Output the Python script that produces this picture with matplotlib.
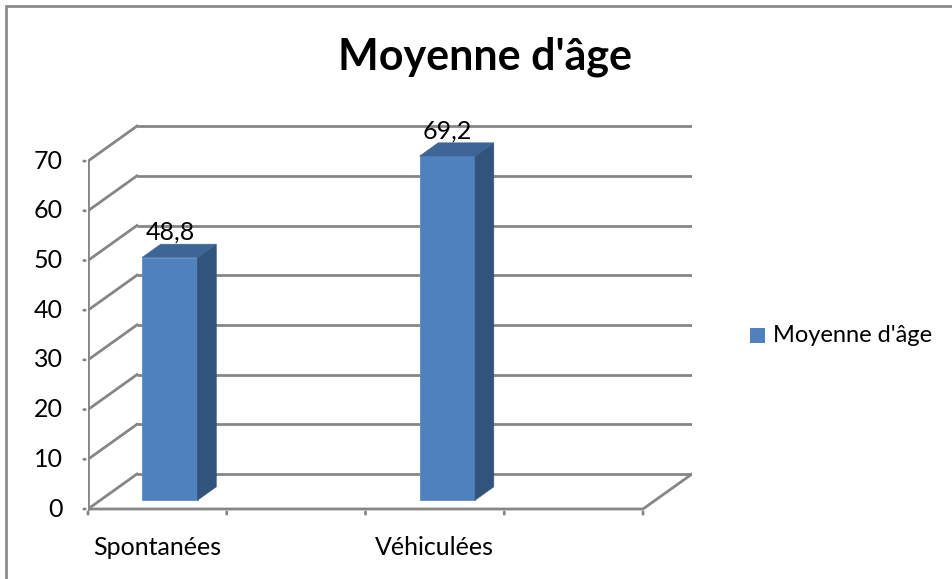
"""
Moyenne d'age - Excel style 3D column chart, faked with 2D patches.
"""

import matplotlib.pyplot as plt
from matplotlib.patches import Polygon, Rectangle

categories = ["Spontanées", "Véhiculées"]
values = [48.8, 69.2]
labels = ["48,8", "69,2"]
series_name = "Moyenne d'âge"
yticks = [0, 10, 20, 30, 40, 50, 60, 70]

plt.rcParams['font.family'] = ['Lato', 'DejaVu Sans']

front = '#4F81BD'
side = '#31537C'
top = '#3D6696'
grid = '#868686'

W, H = 953, 579
fig = plt.figure(figsize=(W / 100, H / 100), dpi=100)

# axes placed in pixels: x 88..692, value 0 at y=509, 4.97 px per unit
px_slot = 138.8
px_unit = 4.97
y0_px = 509
ymin, ymax = -2, 78
nslot = 4
Dx = 49 / px_slot   # full depth in slot units
Dy = 35 / px_unit   # full depth in value units
left_px = 88
width_px = 604
bottom_px = y0_px - ymin * px_unit
top_px = y0_px - ymax * px_unit
ax = fig.add_axes([left_px / W, 1 - bottom_px / H, width_px / W, (bottom_px - top_px) / H])
ax.set_xlim(0, nslot + Dx)
ax.set_ylim(ymin, ymax)
ax.axis('off')

lw = 2
# back wall gridlines and left wall diagonals
for v in yticks:
    ax.plot([Dx, nslot + Dx], [v + Dy, v + Dy], color=grid, lw=lw, zorder=1, solid_capstyle='butt')
    ax.plot([0, Dx], [v, v + Dy], color=grid, lw=lw, zorder=1)
# floor
ax.plot([0, nslot, nslot + Dx], [0, 0, Dy], color=grid, lw=lw, zorder=1)
# front value axis
ax.plot([0, 0], [0, yticks[-1]], color=grid, lw=lw, zorder=1)
for v in yticks:
    ax.annotate('', xy=(0, v), xytext=(-7, 0), textcoords='offset pixels',
                xycoords='data', arrowprops=dict(arrowstyle='-', color=grid, lw=lw))
    ax.annotate(str(v), xy=(0, v), xytext=(-25, 0), textcoords='offset pixels',
                ha='right', va='center', fontsize=18, color='black')
# category ticks
for i in range(nslot + 1):
    ax.annotate('', xy=(i, 0), xytext=(0, -8), textcoords='offset pixels',
                arrowprops=dict(arrowstyle='-', color=grid, lw=lw))
for i, c in enumerate(categories):
    ax.annotate(c, xy=(2 * i + 0.5, 0), xytext=(0, -38), textcoords='offset pixels',
                ha='center', va='center', fontsize=18, color='black')

# bars
f0 = 0.255
d = 0.38
bw = 0.4
xpos = [2 * i + 0.5 + f0 * Dx for i in range(len(values))]
base = f0 * Dy
bars = ax.bar(xpos, values, width=bw, bottom=base, color=front, zorder=3,
              edgecolor='#5A8BC6', linewidth=0.6)
for xc, v, lab in zip(xpos, values, labels):
    xl, xr = xc - bw / 2, xc + bw / 2
    yt = base + v
    ax.add_patch(Polygon([(xr, base), (xr, yt), (xr + d * Dx, yt + d * Dy), (xr + d * Dx, base + d * Dy)],
                         closed=True, facecolor=side, edgecolor=side, lw=0.5, zorder=3))
    ax.add_patch(Polygon([(xl, yt), (xl + d * Dx, yt + d * Dy), (xr + d * Dx, yt + d * Dy), (xr, yt)],
                         closed=True, facecolor=top, edgecolor=top, lw=0.5, zorder=3))
    ax.annotate(lab, xy=(xc, yt), xytext=(0, 25), textcoords='offset pixels',
                ha='center', va='center', fontsize=18, color='black', zorder=4)

# legend
fig.patches.append(Rectangle((750 / W, 1 - 343 / H), 15 / W, 15 / H, transform=fig.transFigure,
                             facecolor=front, edgecolor='none'))
fig.text(773 / W, 1 - 336 / H, series_name, ha='left', va='center', fontsize=17)

# title
fig.text(485 / W, 1 - 57 / H, series_name, ha='center', va='center', fontsize=31, fontweight='bold')

# chart border (only top and left visible)
fig.patches.append(Rectangle((6 / W, -0.1), 1.2, 1 - 6 / H + 0.1, transform=fig.transFigure,
                             facecolor='none', edgecolor='#8C8C8C', lw=2))

fig.savefig('out.png', dpi=100)
